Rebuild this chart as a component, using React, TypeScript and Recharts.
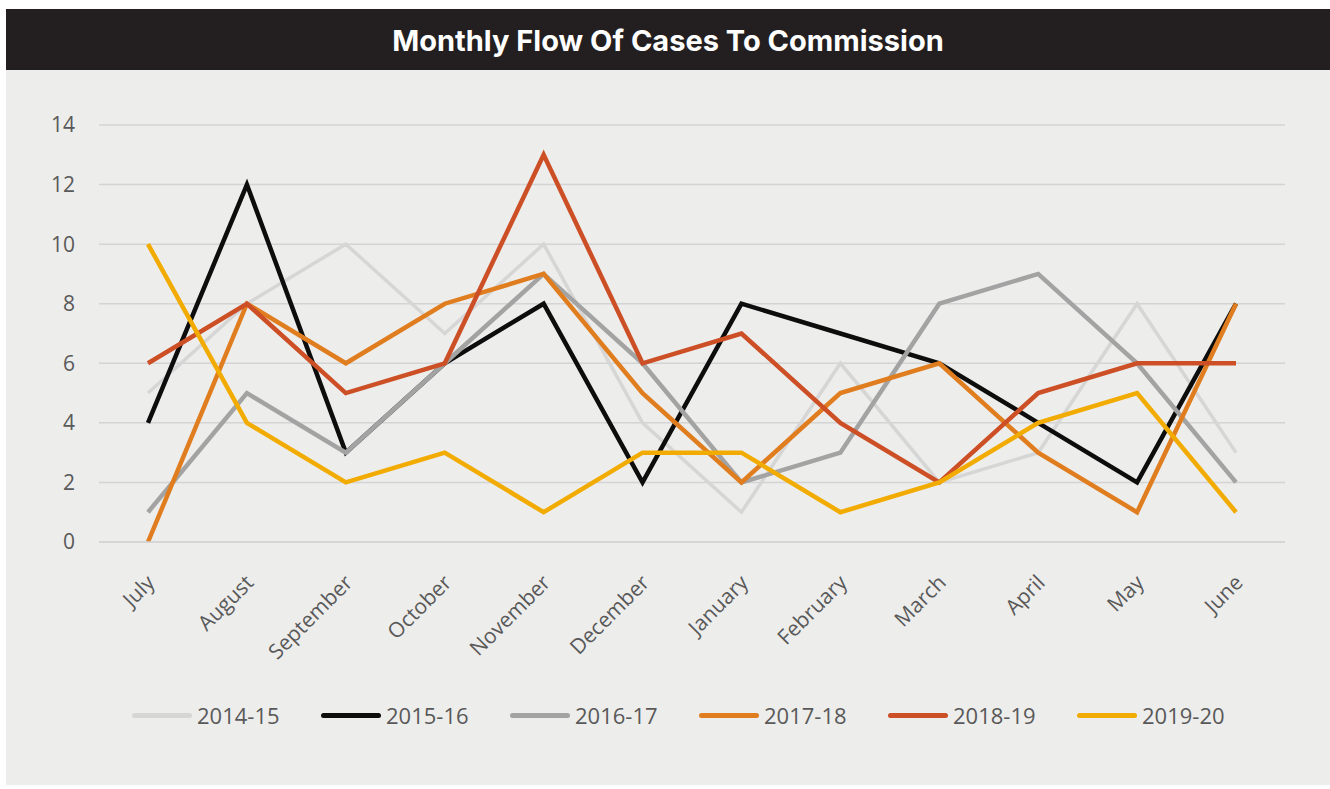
import { LineChart, Line, XAxis, YAxis, CartesianGrid, Legend } from 'recharts';

const months = [
  'July', 'August', 'September', 'October', 'November', 'December',
  'January', 'February', 'March', 'April', 'May', 'June',
];

const y2014 = [5, 8, 10, 7, 10, 4, 1, 6, 2, 3, 8, 3];
const y2015 = [4, 12, 3, 6, 8, 2, 8, 7, 6, 4, 2, 8];
const y2016 = [1, 5, 3, 6, 9, 6, 2, 3, 8, 9, 6, 2];
const y2017 = [0, 8, 6, 8, 9, 5, 2, 5, 6, 3, 1, 8];
const y2018 = [6, 8, 5, 6, 13, 6, 7, 4, 2, 5, 6, 6];
const y2019 = [10, 4, 2, 3, 1, 3, 3, 1, 2, 4, 5, 1];

const yTicks = [0, 2, 4, 6, 8, 10, 12, 14];

const series = [
  { key: '2014-15', values: y2014, color: '#d6d6d6', width: 3.5 },
  { key: '2015-16', values: y2015, color: '#0d0d0d', width: 4.5 },
  { key: '2016-17', values: y2016, color: '#a3a3a3', width: 4.5 },
  { key: '2017-18', values: y2017, color: '#e07d1f', width: 4.5 },
  { key: '2018-19', values: y2018, color: '#cc4f26', width: 4.5 },
  { key: '2019-20', values: y2019, color: '#f2ab00', width: 4.5 },
];

const data = months.map((m, i) => {
  const row: Record<string, string | number> = { month: m };
  series.forEach((s) => {
    row[s.key] = s.values[i];
  });
  return row;
});

const FONT = '"Open Sans", "Liberation Sans", sans-serif';

function MonthTick({ x, y, payload }: any) {
  const tx = x + 8;
  const ty = y + 34;
  return (
    <text
      x={tx}
      y={ty}
      transform={`rotate(-45, ${tx}, ${ty})`}
      textAnchor="end"
      fill="#595959"
      fontSize={21}
      fontFamily={FONT}
    >
      {payload.value}
    </text>
  );
}

function SeasonLegend() {
  return (
    <div
      style={{
        height: 40,
        display: 'flex',
        justifyContent: 'center',
        alignItems: 'center',
        paddingLeft: 70,
        fontFamily: FONT,
        fontSize: 22,
        color: '#595959',
      }}
    >
      {series.map((s, i) => (
        <div
          key={s.key}
          style={{ display: 'flex', alignItems: 'center', width: 152, marginLeft: i === 0 ? 0 : 37 }}
        >
          <span
            style={{
              display: 'inline-block',
              width: 60,
              height: 5,
              borderRadius: 3,
              background: s.color,
              marginRight: 5,
            }}
          />
          <span>{s.key}</span>
        </div>
      ))}
    </div>
  );
}

export default function App() {
  return (
    <div
      style={{
        position: 'absolute',
        left: 6,
        top: 9,
        width: 1324,
        height: 776,
        background: '#ededec',
      }}
    >
      <div
        style={{
          height: 61,
          background: '#231f20',
          color: '#ffffff',
          display: 'flex',
          alignItems: 'center',
          justifyContent: 'center',
          fontFamily: 'Inter, "Open Sans", sans-serif',
          fontWeight: 700,
          fontSize: 29,
          paddingTop: 2,
          boxSizing: 'border-box',
        }}
      >
        Monthly Flow Of Cases To Commission
      </div>
      <LineChart
        width={1324}
        height={715}
        data={data}
        margin={{ top: 55, right: 45, bottom: 50, left: 0 }}
      >
        <CartesianGrid vertical={false} stroke="#d4d4d4" strokeWidth={1.5} />
        <XAxis
          dataKey="month"
          interval={0}
          padding={{ left: 49, right: 49 }}
          tick={<MonthTick />}
          tickLine={false}
          axisLine={{ stroke: '#d4d4d4', strokeWidth: 1.5 }}
          height={153}
        />
        <YAxis
          domain={[0, 14]}
          ticks={yTicks}
          width={93}
          tickLine={false}
          axisLine={false}
          tickMargin={18}
          tick={{ fill: '#595959', fontSize: 21, fontFamily: FONT }}
        />
        <Legend verticalAlign="bottom" content={() => <SeasonLegend />} />
        {series.map((s) => (
          <Line
            key={s.key}
            type="linear"
            dataKey={s.key}
            stroke={s.color}
            strokeWidth={s.width}
            dot={false}
            activeDot={false}
            isAnimationActive={false}
          />
        ))}
      </LineChart>
    </div>
  );
}
